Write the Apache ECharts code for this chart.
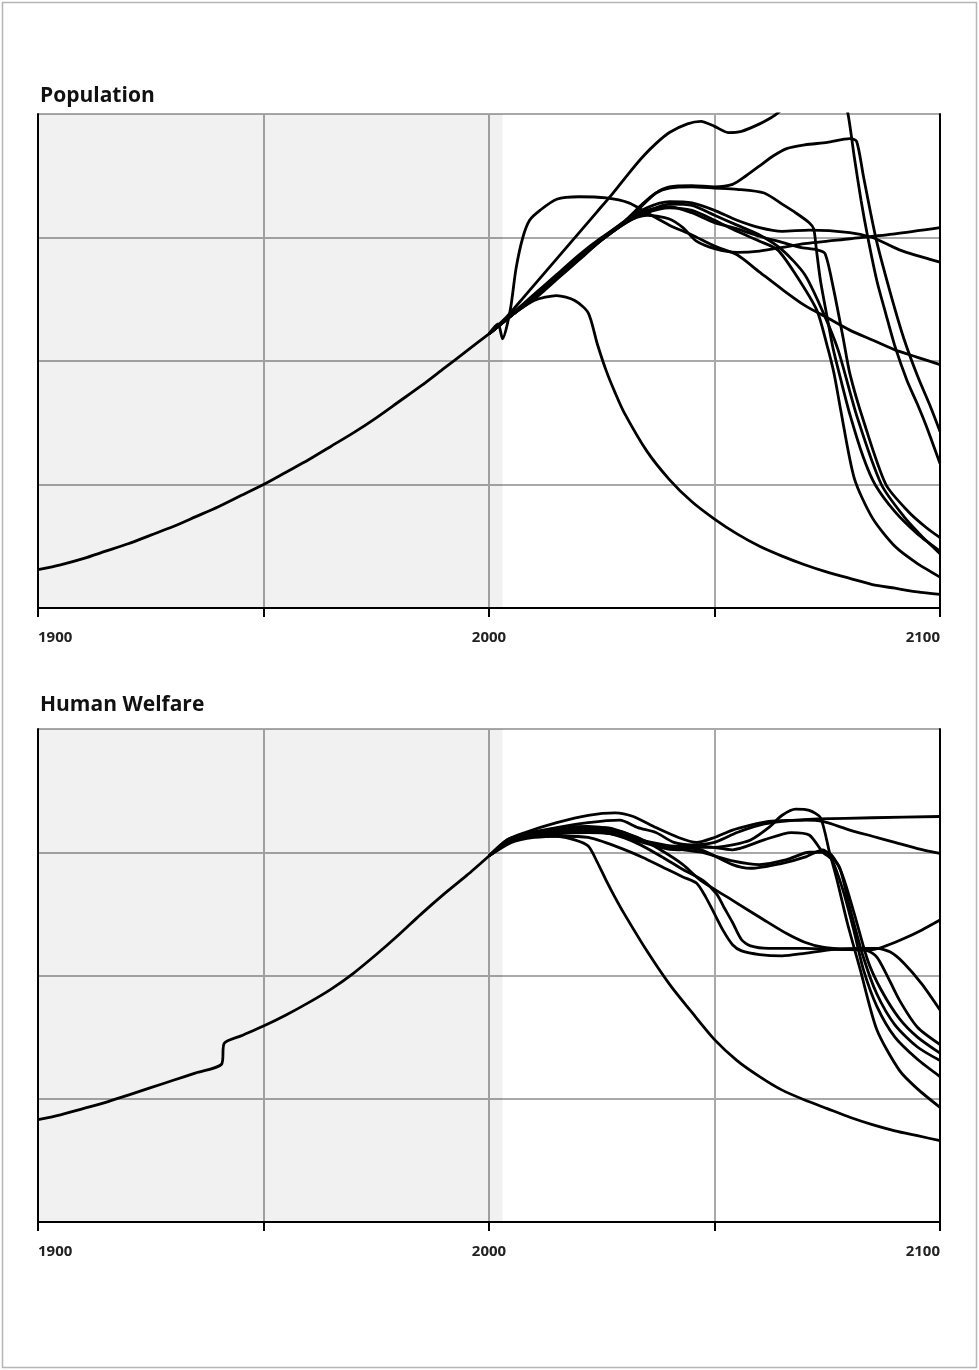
<!DOCTYPE html>
<html><head><meta charset="utf-8">
<script src="https://cdn.jsdelivr.net/npm/echarts@6/dist/echarts.min.js"></script>
<style>html,body{margin:0;padding:0;background:#fff}#c{width:979px;height:1370px}</style>
</head><body><div id="c"></div><script>
// ---- axis / label data ----
const tickYears = [1900, 1950, 2000, 2050, 2100];
const labelYears = [1900, 2000, 2100];
const historyEnd = 2003;

// ---- Population (relative units, grid bands 0..4) ----
const popHistory = [[1900,0.31],[1905,0.35],[1910,0.40],[1915,0.46],[1920,0.52],[1925,0.59],[1930,0.66],[1935,0.74],[1940,0.82],[1945,0.91],[1950,1.00],[1955,1.10],[1960,1.20],[1965,1.31],[1970,1.42],[1975,1.54],[1980,1.67],[1985,1.80],[1990,1.94],[1995,2.08],[2000,2.22]];
const popA = [[2000,2.22],[2005,2.37],[2010,2.49],[2015,2.53],[2019,2.49],[2022,2.39],[2024,2.14],[2026,1.92],[2028,1.74],[2030,1.58],[2035,1.27],[2040,1.04],[2045,0.86],[2050,0.72],[2055,0.6],[2060,0.5],[2065,0.42],[2070,0.35],[2075,0.29],[2080,0.24],[2085,0.19],[2090,0.16],[2095,0.13],[2100,0.11]];
const popB = [[2000,2.22],[2002,2.3],[2003,2.18],[2004.7,2.41],[2006,2.75],[2007.5,3.0],[2009,3.14],[2011.3,3.22],[2015,3.31],[2020,3.33],[2026,3.32],[2031,3.28],[2035,3.2],[2040,3.1],[2045,3.02],[2050,2.93],[2055,2.86],[2060,2.72],[2065,2.58],[2070,2.45],[2075,2.35],[2080,2.25],[2085,2.17],[2090,2.09],[2095,2.03],[2100,1.97]];
const popC = [[2000,2.22],[2004,2.36],[2008,2.53],[2012,2.7],[2016,2.87],[2020,3.04],[2024,3.21],[2027.5,3.36],[2031,3.52],[2034,3.65],[2037,3.76],[2040,3.85],[2044,3.92],[2047,3.94],[2050,3.9],[2053,3.85],[2056,3.86],[2060,3.92],[2063,3.98],[2067,4.1],[2071,4.22],[2075,4.32],[2077.5,4.3],[2079.6,4.0],[2081,3.65],[2082.5,3.3],[2084,3.0],[2086,2.65],[2088,2.38],[2090,2.12],[2092.7,1.84],[2095,1.65],[2097,1.47],[2100,1.17]];
const popD = [[2000,2.22],[2005,2.37],[2010,2.5],[2015,2.66],[2020,2.82],[2025,2.98],[2030,3.12],[2034,3.26],[2037,3.36],[2040,3.41],[2045,3.42],[2050,3.41],[2054,3.43],[2057,3.5],[2060,3.58],[2063,3.66],[2066,3.72],[2070,3.75],[2075,3.77],[2080,3.8],[2081.5,3.78],[2083,3.5],[2084.5,3.22],[2086,2.96],[2089,2.55],[2092,2.18],[2095,1.88],[2098,1.62],[2100,1.43]];
const popE = [[2000,2.22],[2005,2.38],[2010,2.54],[2015,2.7],[2020,2.86],[2025,3.0],[2030,3.12],[2035,3.18],[2040,3.15],[2043,3.08],[2046,2.97],[2050,2.91],[2055,2.88],[2060,2.89],[2065,2.92],[2070,2.95],[2080,2.99],[2090,3.03],[2100,3.08]];
const popF = [[2000,2.22],[2005,2.37],[2010,2.52],[2015,2.68],[2020,2.84],[2025,2.99],[2030,3.13],[2035,3.24],[2040,3.29],[2045,3.28],[2050,3.22],[2055,3.14],[2060,3.08],[2065,3.05],[2071,3.06],[2080,3.04],[2085,3.0],[2091,2.9],[2100,2.8]];
const popG = [[2000,2.22],[2005,2.37],[2010,2.51],[2015,2.67],[2020,2.83],[2025,2.99],[2030,3.13],[2034,3.27],[2037,3.36],[2040,3.4],[2045,3.41],[2050,3.4],[2055,3.39],[2061,3.36],[2065,3.27],[2068,3.2],[2071,3.12],[2072,3.07],[2072.6,2.9],[2073.5,2.65],[2075,2.35],[2076.3,2.1],[2078,1.85],[2080,1.57],[2083,1.22],[2085.6,1.0],[2090,0.78],[2095,0.6],[2100,0.46]];
const popH = [[2000,2.22],[2005,2.37],[2010,2.52],[2015,2.68],[2020,2.84],[2025,2.99],[2030,3.12],[2035,3.22],[2040,3.25],[2045,3.2],[2050,3.12],[2055,3.07],[2060,3.01],[2065,2.96],[2069,2.92],[2072.7,2.9],[2074.5,2.87],[2076.3,2.6],[2078.5,2.19],[2080,1.9],[2083,1.52],[2088,1.0],[2093,0.78],[2097,0.65],[2100,0.57]];
const popK = [[2000,2.22],[2005,2.37],[2010,2.52],[2015,2.68],[2020,2.84],[2025,2.98],[2030,3.11],[2035,3.2],[2040,3.24],[2045,3.22],[2050,3.14],[2055,3.05],[2060,2.97],[2064,2.9],[2068,2.7],[2072.7,2.41],[2075,2.12],[2076.5,1.9],[2078,1.6],[2081,1.05],[2085,0.73],[2090,0.5],[2095,0.36],[2100,0.25]];
const popM = [[2000,2.22],[2005,2.37],[2010,2.51],[2015,2.67],[2020,2.83],[2025,2.98],[2030,3.11],[2035,3.21],[2040,3.27],[2045,3.26],[2050,3.18],[2055,3.1],[2060,3.02],[2065,2.9],[2070,2.7],[2074,2.4],[2077.4,2.09],[2081.6,1.55],[2087,1.0],[2092,0.74],[2096,0.58],[2100,0.44]];

// ---- Human Welfare ----
const welHistory = [[1900,0.83],[1905,0.87],[1910,0.92],[1915,0.97],[1920,1.03],[1925,1.09],[1930,1.15],[1935,1.21],[1940.7,1.28],[1941.3,1.45],[1945,1.51],[1950,1.59],[1955,1.68],[1960,1.78],[1965,1.89],[1970,2.02],[1975,2.17],[1980,2.33],[1985,2.5],[1990,2.66],[1995,2.81],[2000,2.97]];
const welA = [[2000,2.97],[2003,3.06],[2006,3.11],[2010,3.14],[2015,3.13],[2019,3.1],[2022,3.05],[2024,2.92],[2026,2.77],[2028,2.63],[2030,2.5],[2035,2.2],[2040,1.93],[2045,1.7],[2050,1.48],[2055,1.31],[2060,1.18],[2065,1.07],[2070,0.99],[2075,0.92],[2080,0.85],[2085,0.79],[2090,0.74],[2095,0.7],[2100,0.66]];
const welP1 = [[2000,2.97],[2004,3.1],[2008,3.16],[2015,3.24],[2022,3.3],[2028,3.32],[2032,3.29],[2037,3.2],[2042,3.12],[2046,3.08],[2050,3.12],[2054,3.18],[2058,3.22],[2062,3.25],[2068,3.26],[2073,3.27],[2085,3.28],[2100,3.29]];
const welP2 = [[2000,2.97],[2004,3.1],[2008,3.15],[2015,3.2],[2022,3.24],[2029,3.26],[2033,3.2],[2037,3.16],[2041,3.08],[2045,3.06],[2050,3.08],[2055,3.16],[2060,3.22],[2065,3.25],[2070,3.26],[2074,3.25],[2080,3.18],[2085,3.13],[2090,3.08],[2095,3.03],[2100,2.99]];
const welQ1 = [[2000,2.97],[2004,3.09],[2008,3.14],[2015,3.18],[2022,3.2],[2026,3.2],[2030,3.16],[2034,3.1],[2038,3.04],[2042,3.02],[2046,3.04],[2050,3.04],[2054,3.06],[2058,3.1],[2062,3.2],[2065,3.3],[2068,3.35],[2071,3.34],[2073.5,3.28],[2075.5,3.0],[2077.2,2.77],[2079.5,2.42],[2082.3,2.05],[2086,1.56],[2091,1.23],[2095,1.08],[2100,0.93]];
const welQ2 = [[2000,2.97],[2004,3.08],[2008,3.13],[2015,3.17],[2022,3.19],[2027,3.18],[2031,3.13],[2036,3.08],[2041,3.05],[2047,3.05],[2054,3.02],[2061,3.1],[2067,3.16],[2071,3.14],[2074,3.0],[2076,2.94],[2078.5,2.69],[2081,2.35],[2083,2.05],[2086,1.75],[2090,1.5],[2095,1.32],[2100,1.18]];
const welQ3 = [[2000,2.97],[2004,3.08],[2008,3.12],[2015,3.16],[2022,3.18],[2027,3.17],[2031,3.12],[2036,3.07],[2041,3.04],[2047,3.02],[2054,2.9],[2058,2.87],[2065,2.91],[2070,2.96],[2074,3.02],[2075.5,2.98],[2077.7,2.88],[2080,2.55],[2083,2.15],[2086,1.85],[2090,1.6],[2095,1.42],[2100,1.31]];
const welQ4 = [[2000,2.97],[2004,3.08],[2008,3.12],[2015,3.15],[2022,3.16],[2027,3.15],[2031,3.11],[2036,3.06],[2041,3.03],[2047,3.0],[2054,2.93],[2060,2.9],[2066,2.94],[2071,3.0],[2075,3.0],[2078,2.85],[2081,2.5],[2084,2.12],[2087,1.88],[2091,1.65],[2095,1.5],[2100,1.37]];
const welR1 = [[2000,2.97],[2005,3.1],[2010,3.15],[2016,3.18],[2022,3.17],[2027,3.15],[2033,3.07],[2038,2.97],[2043,2.86],[2047.5,2.77],[2050.5,2.66],[2052,2.56],[2054,2.43],[2056,2.29],[2058,2.24],[2062,2.22],[2070,2.22],[2080,2.21],[2085,2.21],[2088,2.24],[2092,2.3],[2096,2.37],[2100,2.45]];
const welR2 = [[2000,2.97],[2005,3.08],[2010,3.12],[2016,3.13],[2022,3.12],[2028,3.05],[2034,2.96],[2039,2.87],[2043,2.8],[2046,2.75],[2048,2.64],[2050,2.5],[2052,2.36],[2054,2.25],[2056,2.2],[2060,2.17],[2065,2.16],[2070,2.18],[2076,2.21],[2082,2.22],[2086,2.22],[2089,2.19],[2092,2.1],[2096,1.93],[2100,1.72]];
const welR3 = [[2000,2.97],[2005,3.1],[2010,3.16],[2016,3.2],[2022,3.21],[2027,3.19],[2033,3.12],[2038,3.02],[2043,2.9],[2047,2.77],[2054,2.61],[2061,2.45],[2066,2.34],[2070,2.27],[2074,2.23],[2080,2.21],[2084,2.2],[2086,2.15],[2088,2.02],[2091,1.8],[2095,1.58],[2100,1.44]];

const popScenarios = [popA, popB, popC, popD, popE, popF, popG, popH, popK, popM];
const welScenarios = [welA, welP1, welP2, welQ1, welQ2, welQ3, welQ4, welR1, welR2, welR3];

// ---- layout ----
const chart = echarts.init(document.getElementById('c'), null, {renderer: 'canvas'});
const FONT = 'Open Sans';
const panels = [{top: 114, height: 494, title: 'Population', titleTop: 81},
                {top: 729, height: 493, title: 'Human Welfare', titleTop: 690}];

const grids = [], xAxes = [], yAxes = [], series = [], titles = [];
panels.forEach((p, i) => {
  grids.push({left: 38, right: 39, top: p.top, height: p.height, containLabel: false});
  titles.push({text: p.title, left: 35, top: p.titleTop,
    textStyle: {fontFamily: FONT, fontWeight: 700, fontSize: 21, color: '#111'}});
  xAxes.push({type: 'value', gridIndex: i, min: 1900, max: 2100, interval: 50, position: 'bottom',
    axisLine: {show: true, lineStyle: {color: '#000', width: 2}},
    axisTick: {show: true, inside: false, length: 9, lineStyle: {color: '#000', width: 2}},
    axisLabel: {show: true, margin: 22, color: '#222', fontFamily: FONT, fontWeight: 700, fontSize: 15,
      showMinLabel: true, showMaxLabel: true, alignMinLabel: 'left', alignMaxLabel: 'right',
      formatter: v => labelYears.includes(v) ? String(v) : ''},
    splitLine: {show: true, lineStyle: {color: '#a9a9a9', width: 2}}});
  xAxes.push({type: 'value', gridIndex: i, min: 1900, max: 2100, position: 'top',
    axisLine: {show: true, lineStyle: {color: '#000', width: 2}},
    axisTick: {show: false}, axisLabel: {show: false}, splitLine: {show: false}});
  yAxes.push({type: 'value', gridIndex: i, min: 0, max: 4, interval: 1, position: 'left',
    axisLine: {show: true, lineStyle: {color: '#000', width: 2}},
    axisTick: {show: false}, axisLabel: {show: false},
    splitLine: {show: true, lineStyle: {color: '#a9a9a9', width: 2}}});
  yAxes.push({type: 'value', gridIndex: i, min: 0, max: 4, position: 'right',
    axisLine: {show: true, lineStyle: {color: '#000', width: 2}},
    axisTick: {show: false}, axisLabel: {show: false}, splitLine: {show: false}});

  const hist = i === 0 ? popHistory : welHistory;
  const scen = i === 0 ? popScenarios : welScenarios;
  const common = {type: 'line', xAxisIndex: i * 2, yAxisIndex: i * 2, symbol: 'none',
    smooth: 0.25, clip: true, silent: true,
    lineStyle: {color: '#000', width: 2.8}};
  series.push(Object.assign({}, common, {data: hist, z: 3,
    markArea: {silent: true, itemStyle: {color: 'rgba(0,0,0,0.055)'},
      data: [[{xAxis: 1900}, {xAxis: historyEnd}]]}}));
  scen.forEach(d => series.push(Object.assign({}, common, {data: d, z: 3})));
});

chart.setOption({
  animation: false,
  backgroundColor: '#fff',
  title: titles,
  grid: grids,
  xAxis: xAxes,
  yAxis: yAxes,
  series: series,
  graphic: [{type: 'rect', silent: true, z: 100,
    shape: {x: 2.5, y: 2.5, width: 974, height: 1365},
    style: {fill: null, stroke: '#b5b5b5', lineWidth: 1.5}}]
});
</script></body></html>
